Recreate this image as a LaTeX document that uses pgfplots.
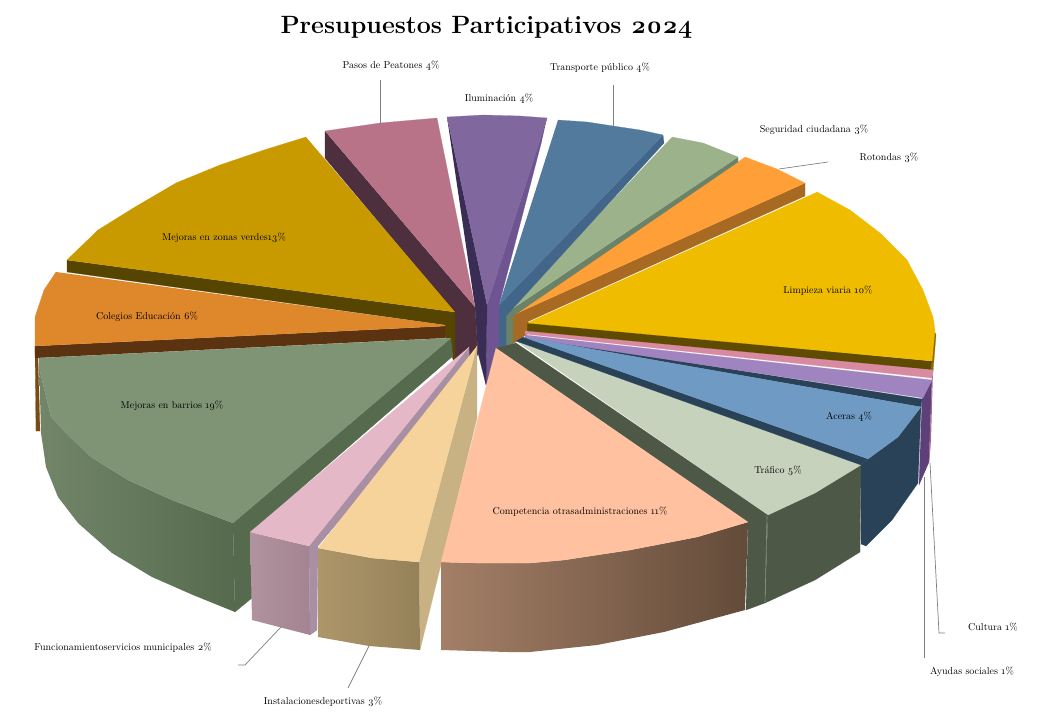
\documentclass[border=0pt]{standalone}
\usepackage{pgfplots}
\pgfplotsset{compat=1.18}
\usepackage{fontspec}
\setmainfont{Latin Modern Roman}[Numbers=OldStyle]
\definecolor{cLim}{HTML}{F0BC00}\definecolor{cLimW}{HTML}{5E4A00}\definecolor{cLimO}{HTML}{8A6E00}
\definecolor{cRot}{HTML}{FF9F38}\definecolor{cRotW}{HTML}{A86A22}
\definecolor{cSeg}{HTML}{9BB28B}\definecolor{cSegW}{HTML}{6A8268}
\definecolor{cTra}{HTML}{517A9D}\definecolor{cTraW}{HTML}{41668A}
\definecolor{cIlu}{HTML}{80679E}\definecolor{cIluL}{HTML}{3A2D55}\definecolor{cIluR}{HTML}{6E5490}
\definecolor{cPas}{HTML}{B97388}\definecolor{cPasW}{HTML}{4E2F3E}
\definecolor{cVer}{HTML}{C99A00}\definecolor{cVerW}{HTML}{564500}
\definecolor{cCol}{HTML}{DE872B}\definecolor{cColW}{HTML}{5C3310}\definecolor{cColO}{HTML}{7A4A14}
\definecolor{cBar}{HTML}{7F9475}\definecolor{cBarW}{HTML}{566B4E}
\definecolor{cFun}{HTML}{E5B8C8}\definecolor{cFunW}{HTML}{A98FA3}
\definecolor{cIns}{HTML}{F5D39A}\definecolor{cInsW}{HTML}{C8B283}
\definecolor{cCom}{HTML}{FFC1A0}
\definecolor{cTrf}{HTML}{C6D2BC}\definecolor{cTrfW}{HTML}{4E5846}
\definecolor{cAce}{HTML}{6E9AC4}\definecolor{cAceW}{HTML}{2A4257}
\definecolor{cAyu}{HTML}{9F84BF}\definecolor{cAyuW}{HTML}{5D3F7A}
\definecolor{cCul}{HTML}{D88AA0}
\definecolor{lead}{HTML}{7F7F7F}
\definecolor{cFunL}{HTML}{B1929F}\definecolor{cFunR}{HTML}{A38490}
\definecolor{cInsL}{HTML}{AE966A}\definecolor{cInsR}{HTML}{958159}
\definecolor{cComL}{HTML}{A47F67}\definecolor{cComR}{HTML}{634B39}
\definecolor{cTrfS}{HTML}{8A9585}
\newcommand\poly[2]{\addplot[fill=#1,draw=#1,line width=0.2pt] coordinates {#2};}
\newcommand\shpoly[3]{\addplot[left color=#1,right color=#2,draw=none] coordinates {#3};}
\newcommand\leadline[1]{\addplot[lead,line width=0.7pt] coordinates {#1};}
\begin{document}
\begin{tikzpicture}
\path[use as bounding box] (0,0) rectangle (1055pt,722pt);
\begin{axis}[at={(0,0)},anchor=south west,scale only axis,width=1055pt,height=722pt,
 xmin=0,xmax=1055,ymin=0,ymax=722,y dir=reverse,hide axis,clip=false,no markers,
 every node/.style={font=\fontsize{18}{23}\selectfont\bfseries,align=center,text=black,inner sep=0pt}]
% Limpieza viaria
\poly{cLimO}{(934,330)(936,335)(933,372)(931,372)}
\poly{cLimW}{(932,361)(931,370)(527,333)(527,322)}
\poly{cLim}{(817,192)(850,210)(880,233)(907,260)(923,290)(933,317)(935,330)(932,361)(527,323)}
% Rotondas
\poly{cRotW}{(805,183)(805,196)(527,322)(527,334)(513,344)(513,315)}
\poly{cRot}{(745,157)(777,169)(805,183)(513,315)}
% Seguridad
\poly{cSegW}{(738,157)(738,162)(513,316)(513,344)(506,348)(506,313)}
\poly{cSeg}{(672,137)(703,143)(738,157)(506,313)}
% Transporte
\poly{cTraW}{(663,135)(664,143)(506,316)(506,350)(499,352)(499,305)}
\poly{cTra}{(558,120)(587,122)(613,126)(640,130)(663,135)(499,305)}
% Iluminacion
\poly{cIluR}{(547,118)(487,305)(486,385)(499,350)(499,305)(542,140)}
\poly{cIluL}{(447,117)(487,305)(486,385)(478,353)(475,307)}
\poly{cIlu}{(447,117)(483,115)(520,116)(547,118)(487,305)}
% Pasos de Peatones
\poly{cPasW}{(325,131)(325,158)(455,313)(455,365)(478,355)(475,307)}
\poly{cPas}{(325,131)(380,123)(437,118)(475,307)}
% Zonas verdes
\poly{cVerW}{(67,260)(67,272)(445,325)(445,336)(455,365)(455,312)}
\poly{cVer}{(306,137)(264,150)(220,165)(176,183)(135,207)(98,230)(67,260)(455,312)}
% Colegios
\poly{cColO}{(35,346)(36,431)(40,431)(38,358)}
\poly{cColW}{(35,346)(35,358)(445,338)(445,326)}
\poly{cCol}{(56,272)(44,290)(35,317)(35,346)(445,326)(445,325)}
% Mejoras en barrios
\shpoly{cBar!90!black}{cBarW}{(39,358)(41,433)(46,467)(58,497)(78,523)(112,553)(152,577)(193,595)(235,612)(233,523)(172,500)(128,480)(91,457)(66,433)(51,417)(39,367)}
\poly{cBarW}{(451,338)(233,523)(235,612)(252,598)(252,531)(453,356)}
\poly{cBar}{(39,358)(39,367)(51,417)(66,433)(91,457)(128,480)(172,500)(233,523)(451,338)}
% Funcionamiento
\poly{cFunW}{(469,347)(309,546)(310,635)(317,630)(318,546)(470,365)}
\shpoly{cFunL}{cFunR}{(250,532)(309,546)(310,635)(252,620)}
\poly{cFun}{(250,532)(309,546)(469,347)}
% Instalaciones
\poly{cInsW}{(477,346)(419,562)(420,650)(477,418)}
\shpoly{cInsL}{cInsR}{(318,548)(372,558)(419,562)(420,650)(369,646)(318,637)}
\poly{cIns}{(318,548)(372,558)(419,562)(477,346)}
% Trafico
\poly{cTrfW}{(516,343)(768,515)(765,603)(746,610)(748,522)(496,348)}
\poly{cTrfW}{(768,515)(815,493)(861,465)(860,552)(815,580)(765,603)}
\addplot[color=cTrfS,line width=0.6pt] coordinates {(767,516)(765,602)};
% Competencia
\shpoly{cComL}{cComR}{(441,562)(477,563)(530,563)(564,560)(630,550)(697,537)(748,522)(745,610)(664,632)(597,645)(530,652)(507,652)(441,650)}
\poly{cCom}{(496,348)(441,562)(477,563)(530,563)(564,560)(630,550)(697,537)(748,522)}
\poly{cTrf}{(516,341)(861,465)(815,493)(768,515)}
% Ayudas / Cultura
\poly{cAyuW}{(932,380)(922,399)(919,485)(929,462)}
\poly{cCul!60!cAyuW}{(933,370)(932,378)(929,462)(931,440)}
\poly{cAceW}{(525,337)(922,399)(921,407)(523,337)}
\poly{cCul}{(525,331)(933,370)(932,378)(525,334)}
\poly{cAyu}{(525,335)(932,380)(923,398)(525,338)}
% Aceras
\poly{cAceW}{(868,459)(898,437)(921,407)(918,483)(892,520)(866,546)(861,544)(861,465)}
\poly{cAceW}{(523,337)(868,459)(861,465)(516,341)}
\poly{cAce}{(523,337)(921,407)(898,437)(868,459)}
% Lineas guia
\leadline{(380,123)(380,80)}
\leadline{(613,126)(613,85)}
\leadline{(779,169)(828,162)}
\leadline{(281,627)(245,665)(238,665)}
\leadline{(369,646)(348,688)}
\leadline{(924,477)(924,658)}
\leadline{(930,463)(939,633)(945,633)}
% Textos
\node[font=\fontsize{25}{30}\selectfont\bfseries] at (axis cs:486.5,27) {Presupuestos Participativos 2024};
\node at (axis cs:391,66) {Pasos de Peatones 4\%};
\node at (axis cs:600,68) {Transporte público 4\%};
\node at (axis cs:499,99) {Iluminación 4\%};
\node at (axis cs:814,130) {Seguridad ciudadana 3\%};
\node at (axis cs:889,158) {Rotondas 3\%};
\node at (axis cs:828,291) {Limpieza viaria 10\%};
\node at (axis cs:224,238) {Mejoras en zonas verdes\\13\%};
\node at (axis cs:147,317) {Colegios Educación 6\%};
\node at (axis cs:172,406) {Mejoras en barrios 19\%};
\node at (axis cs:580,512) {Competencia otras\\administraciones 11\%};
\node at (axis cs:849,417) {Aceras 4\%};
\node at (axis cs:778,471) {Tráfico 5\%};
\node at (axis cs:993,627) {Cultura 1\%};
\node at (axis cs:972,672) {Ayudas sociales 1\%};
\node at (axis cs:123,648) {Funcionamiento\\servicios municipales 2\%};
\node at (axis cs:323,702) {Instalaciones\\deportivas 3\%};
\end{axis}
\end{tikzpicture}
\end{document}
